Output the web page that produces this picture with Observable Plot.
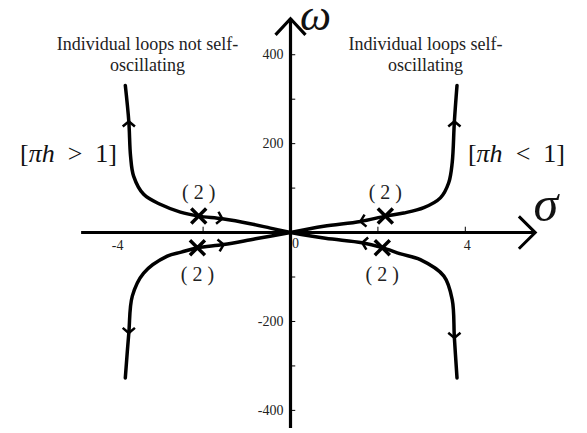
<!DOCTYPE html>
<html><head><meta charset="utf-8">
<script src="https://cdn.jsdelivr.net/npm/d3@7"></script>
<script src="https://cdn.jsdelivr.net/npm/@observablehq/plot@0.6"></script>
<style>body{margin:0;background:#fff}</style>
</head><body><div id="chart"></div>
<script>
// Root-locus branches (σ, ω)
const upperLeftSigma  = [0, -0.46, -0.92, -1.56, -2.10, -2.52, -2.97, -3.36, -3.59, -3.66, -3.70, -3.78];
const upperLeftOmega  = [0, 10, 20, 31, 37, 46, 63, 86, 127, 172, 250, 331];
const upperRightSigma = [0, 0.76, 1.60, 2.17, 2.59, 3.05, 3.43, 3.62, 3.70, 3.75, 3.81];
const upperRightOmega = [0, 14, 25, 37, 44, 56, 78, 112, 157, 250, 331];
const lowerLeftSigma  = [0, -0.80, -1.53, -2.13, -2.50, -2.82, -3.36, -3.62, -3.70, -3.78];
const lowerLeftOmega  = [0, -14, -27, -34, -44, -53, -91, -143, -226, -327];
const lowerRightSigma = [0, 0.80, 1.64, 2.10, 2.52, 2.97, 3.51, 3.70, 3.75, 3.81];
const lowerRightOmega = [0, -13, -23, -34, -48, -61, -98, -151, -237, -327];

// Double poles (crosses)
const poleSigma = [-2.10, 2.17, -2.13, 2.10];
const poleOmega = [37, 37, -34, -34];
const poleLabel = ["(2)", "(2)", "(2)", "(2)"];

// Direction arrows on the branches
const arrowSigma = [-1.56, -3.70, 1.60, 3.75, -1.53, -3.70, 1.64, 3.75];
const arrowOmega = [31, 250, 25, 250, -27, -226, -23, -237];
const arrowDir   = ["origin", "up", "origin", "up", "origin", "down", "origin", "down"];

// Axes
const omegaTickLabels = [400, 200, -200, -400];
const omegaMinorTicks = [-400, -300, -200, -100, 100, 200, 300, 400];
const sigmaTickLabels = [-4, 4];
const sigmaOriginLabel = [0];
const sigmaMinorTicks = [-2, 2, 4];
const sigmaAxisExtent = [-4.78, 5.6];
const omegaAxisExtent = [-441, 481];

const annotations = [
  {text: "Individual loops not self-\noscillating", s: -3.27, w: 402},
  {text: "Individual loops self-\noscillating", s: 3.09, w: 402}
];
const conditions = [
  {text: "[πh > 1]", s: -5.08, w: 178},
  {text: "[πh < 1]", s: 5.17, w: 178}
];

const W = 587, H = 433;
const xDomain = [-6.636, 6.796], yDomain = [-452, 522];
const sx = d3.scaleLinear(xDomain, [0, W]);
const sy = d3.scaleLinear(yDomain, [H, 0]);

function branch(name, S, O) { return S.map((s, i) => ({branch: name, s, w: O[i]})); }
const branches = [
  ...branch("ul", upperLeftSigma, upperLeftOmega),
  ...branch("ur", upperRightSigma, upperRightOmega),
  ...branch("ll", lowerLeftSigma, lowerLeftOmega),
  ...branch("lr", lowerRightSigma, lowerRightOmega)
];
const poles = poleSigma.map((s, i) => ({s, w: poleOmega[i], label: poleLabel[i]}));
const spaced = d => d.label.split("").join(" ");

function chevron(angle, len, half) {
  return {
    draw(ctx) {
      const a1 = angle + Math.PI - half, a2 = angle + Math.PI + half;
      ctx.moveTo(len * Math.cos(a1), len * Math.sin(a1));
      ctx.lineTo(0, 0);
      ctx.lineTo(len * Math.cos(a2), len * Math.sin(a2));
    }
  };
}
const cross = {
  draw(ctx) { const r = 7.5; ctx.moveTo(-r, -r); ctx.lineTo(r, r); ctx.moveTo(-r, r); ctx.lineTo(r, -r); }
};

const arrowMarks = arrowSigma.map((s, i) => {
  const w = arrowOmega[i];
  let ang;
  if (arrowDir[i] === "origin") ang = Math.atan2(sy(0) - sy(w), sx(0) - sx(s));
  else if (arrowDir[i] === "up") ang = -Math.PI / 2;
  else ang = Math.PI / 2;
  return Plot.dot([{s, w}], {x: "s", y: "w", r: 4, symbol: chevron(ang, 8, 0.87),
    fill: "none", stroke: "black", strokeWidth: 2.5});
});

const serif = "Liberation Serif, Times New Roman, serif";

const chart = Plot.plot({
  width: W, height: H,
  marginTop: 0, marginRight: 0, marginBottom: 0, marginLeft: 0,
  x: {domain: xDomain, axis: null},
  y: {domain: yDomain, axis: null},
  style: {fontFamily: serif, background: "white"},
  marks: [
    // axes
    Plot.ruleY([0], {x1: sigmaAxisExtent[0], x2: sigmaAxisExtent[1], stroke: "black", strokeWidth: 3}),
    Plot.ruleX([0], {y1: omegaAxisExtent[0], y2: omegaAxisExtent[1], stroke: "black", strokeWidth: 3.2}),
    Plot.dot([{s: sigmaAxisExtent[1], w: 0}], {x: "s", y: "w", symbol: chevron(0, 23, 0.78), r: 5,
      fill: "none", stroke: "black", strokeWidth: 3}),
    Plot.dot([{s: 0, w: omegaAxisExtent[1]}], {x: "s", y: "w", symbol: chevron(-Math.PI / 2, 22, 0.75), r: 5,
      fill: "none", stroke: "black", strokeWidth: 3.2}),
    Plot.ruleY(omegaMinorTicks, {x1: 0, x2: 0.12, stroke: "black", strokeWidth: 1}),
    Plot.ruleX(sigmaMinorTicks, {y1: 0, y2: 12, stroke: "black", strokeWidth: 1}),
    Plot.text(omegaTickLabels, {x: 0, y: d => d, text: d => String(d), textAnchor: "end", dx: -7,
      fontSize: 14, fill: "#222"}),
    Plot.text(sigmaTickLabels, {x: d => d, y: 0, text: d => String(d), dy: 13, dx: 2,
      fontSize: 14, fill: "#222"}),
    Plot.text(sigmaOriginLabel, {x: d => d, y: 0, text: d => String(d), dy: 11, dx: 5,
      fontSize: 14, fill: "#222"}),
    // branches
    Plot.line(branches, {x: "s", y: "w", z: "branch", curve: "catmull-rom", stroke: "black", strokeWidth: 3.5}),
    ...arrowMarks,
    Plot.dot(poles, {x: "s", y: "w", symbol: cross, r: 6, fill: "none", stroke: "black", strokeWidth: 3.5}),
    Plot.text(poles.filter(d => d.w > 0), {x: "s", y: "w", text: spaced, dy: -24, fontSize: 20, fill: "#222"}),
    Plot.text(poles.filter(d => d.w < 0), {x: "s", y: "w", text: spaced, dy: 27, fontSize: 20, fill: "#222"}),
    // labels
    Plot.text(annotations, {x: "s", y: "w", text: "text", fontSize: 18, lineHeight: 1.17, fill: "#222"}),
    Plot.text(conditions, {x: "s", y: "w", text: "text", fontSize: 26, fill: "#111"}),
    Plot.text([{s: 0.57, w: 488}], {x: "s", y: "w", text: () => "ω", fontSize: 44, fontStyle: "italic", fill: "#111"}),
    Plot.text([{s: 5.84, w: 63}], {x: "s", y: "w", text: () => "σ", fontSize: 50, fontStyle: "italic", fill: "#111"})
  ]
});

// italic math letters inside the conditions
chart.querySelectorAll("text").forEach(t => {
  const m = /^\[πh ([<>]) 1\]$/.exec(t.textContent);
  if (m) {
    while (t.firstChild) t.removeChild(t.firstChild);
    t.appendChild(document.createTextNode("["));
    const it = document.createElementNS("http://www.w3.org/2000/svg", "tspan");
    it.setAttribute("font-style", "italic");
    it.textContent = "πh";
    t.appendChild(it);
    t.appendChild(document.createTextNode("\u2002" + m[1] + "\u20021]"));
  }
});
document.getElementById("chart").appendChild(chart);
</script>
</body></html>
